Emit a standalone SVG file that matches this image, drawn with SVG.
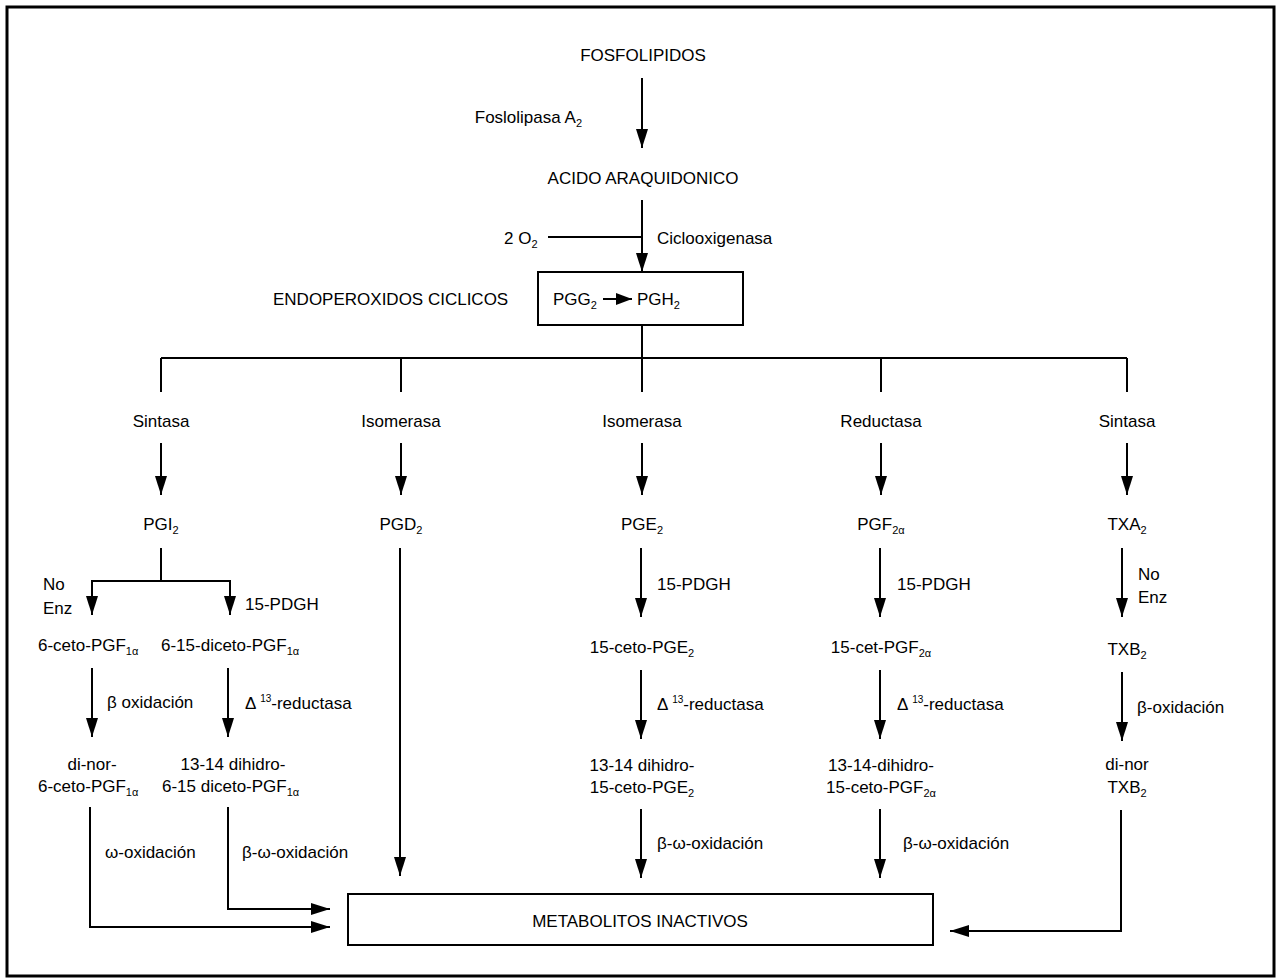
<svg xmlns="http://www.w3.org/2000/svg" width="1276" height="978" viewBox="0 0 1276 978">
<style>
text{font-family:"Liberation Sans",Arial,sans-serif;font-size:17px;fill:#000}
.m{text-anchor:middle}
.e{text-anchor:end}
.s{font-size:11px}
.sup{font-size:10px}
line,polyline,rect.b{stroke:#000;stroke-width:2;fill:none}
</style>
<defs>
<marker id="ah" markerUnits="userSpaceOnUse" markerWidth="19" markerHeight="12" viewBox="0 0 19 12" refX="19" refY="6" orient="auto">
<path d="M0,0 L19,6 L0,12 z" fill="#000"/>
</marker>
<marker id="ahs" markerUnits="userSpaceOnUse" markerWidth="16" markerHeight="12" viewBox="0 0 16 12" refX="16" refY="6" orient="auto">
<path d="M0,0 L16,6 L0,12 z" fill="#000"/>
</marker>
</defs>
<rect x="7" y="7" width="1267" height="969" fill="#fff" stroke="#000" stroke-width="3"/>

<g id="connectors">
<line x1="642" y1="78" x2="642" y2="148" marker-end="url(#ah)"/>
<line x1="642" y1="200" x2="642" y2="272" marker-end="url(#ah)"/>
<line x1="548" y1="237" x2="642" y2="237"/>
<line x1="642" y1="325" x2="642" y2="358"/>
<line x1="161" y1="358" x2="1127" y2="358"/>
<line x1="161" y1="358" x2="161" y2="392"/>
<line x1="401" y1="358" x2="401" y2="392"/>
<line x1="642" y1="358" x2="642" y2="392"/>
<line x1="881" y1="358" x2="881" y2="392"/>
<line x1="1127" y1="358" x2="1127" y2="392"/>
<line x1="161" y1="443" x2="161" y2="495" marker-end="url(#ah)"/>
<line x1="401" y1="443" x2="401" y2="495" marker-end="url(#ah)"/>
<line x1="642" y1="443" x2="642" y2="495" marker-end="url(#ah)"/>
<line x1="881" y1="443" x2="881" y2="495" marker-end="url(#ah)"/>
<line x1="1127" y1="443" x2="1127" y2="495" marker-end="url(#ah)"/>
<line x1="161" y1="548" x2="161" y2="581"/>
<line x1="91" y1="581" x2="231" y2="581"/>
<line x1="92" y1="581" x2="92" y2="615" marker-end="url(#ah)"/>
<line x1="230" y1="581" x2="230" y2="615" marker-end="url(#ah)"/>
<line x1="92" y1="668" x2="92" y2="737" marker-end="url(#ah)"/>
<line x1="228" y1="668" x2="228" y2="737" marker-end="url(#ah)"/>
<polyline points="90,807 90,927 330,927" marker-end="url(#ah)"/>
<polyline points="228,807 228,909 330,909" marker-end="url(#ah)"/>
<line x1="400" y1="548" x2="400" y2="876" marker-end="url(#ah)"/>
<line x1="641" y1="548" x2="641" y2="617" marker-end="url(#ah)"/>
<line x1="641" y1="670" x2="641" y2="739" marker-end="url(#ah)"/>
<line x1="641" y1="809" x2="641" y2="878" marker-end="url(#ah)"/>
<line x1="880" y1="548" x2="880" y2="617" marker-end="url(#ah)"/>
<line x1="880" y1="670" x2="880" y2="739" marker-end="url(#ah)"/>
<line x1="880" y1="809" x2="880" y2="878" marker-end="url(#ah)"/>
<line x1="1122" y1="548" x2="1122" y2="617" marker-end="url(#ah)"/>
<line x1="1122" y1="672" x2="1122" y2="741" marker-end="url(#ah)"/>
<polyline points="1121,810 1121,931 950,931" marker-end="url(#ah)"/>
</g>

<g id="fosfolipidos"><text class="m" x="643" y="61">FOSFOLIPIDOS</text></g>
<g id="foslolipasa"><text class="e" x="582" y="123">Foslolipasa A<tspan class="s" dy="4">2</tspan></text></g>
<g id="acido"><text class="m" x="643" y="184">ACIDO ARAQUIDONICO</text></g>
<g id="o2"><text x="504" y="244">2  O<tspan class="s" dy="4">2</tspan></text></g>
<g id="ciclooxigenasa"><text x="657" y="244">Ciclooxigenasa</text></g>
<g id="endoperoxidos-label"><text x="273" y="305">ENDOPEROXIDOS CICLICOS</text></g>
<g id="endoperoxidos">
<rect class="b" x="538" y="272" width="205" height="53"/>
<text x="553" y="305">PGG<tspan class="s" dy="4">2</tspan></text>
<line x1="603" y1="299" x2="632" y2="299" stroke-width="2.5" marker-end="url(#ahs)"/>
<text x="637" y="305">PGH<tspan class="s" dy="4">2</tspan></text>
</g>

<g id="enzymes">
<text class="m" x="161" y="427">Sintasa</text>
<text class="m" x="401" y="427">Isomerasa</text>
<text class="m" x="642" y="427">Isomerasa</text>
<text class="m" x="881" y="427">Reductasa</text>
<text class="m" x="1127" y="427">Sintasa</text>
</g>

<g id="pgi2"><text class="m" x="161" y="530">PGI<tspan class="s" dy="4">2</tspan></text></g>
<g id="pgd2"><text class="m" x="401" y="530">PGD<tspan class="s" dy="4">2</tspan></text></g>
<g id="pge2"><text class="m" x="642" y="530">PGE<tspan class="s" dy="4">2</tspan></text></g>
<g id="pgf2a"><text class="m" x="881" y="530">PGF<tspan class="s" dy="4">2α</tspan></text></g>
<g id="txa2"><text class="m" x="1127" y="530">TXA<tspan class="s" dy="4">2</tspan></text></g>

<g id="pgi2-path">
<text x="43" y="590">No</text>
<text x="43" y="614">Enz</text>
<text x="245" y="610">15-PDGH</text>
<text x="38" y="651">6-ceto-PGF<tspan class="s" dy="4">1α</tspan></text>
<text x="161" y="651">6-15-diceto-PGF<tspan class="s" dy="4">1α</tspan></text>
<text x="107" y="708">β oxidación</text>
<text x="245" y="709">Δ <tspan class="sup" dy="-7">13</tspan><tspan dy="7">-reductasa</tspan></text>
<text class="m" x="92" y="770">di-nor-</text>
<text x="38" y="792">6-ceto-PGF<tspan class="s" dy="4">1α</tspan></text>
<text class="m" x="233" y="770">13-14 dihidro-</text>
<text x="162" y="792">6-15 diceto-PGF<tspan class="s" dy="4">1α</tspan></text>
<text x="105" y="858">ω-oxidación</text>
<text x="242" y="858">β-ω-oxidación</text>
</g>

<g id="pge2-path">
<text x="657" y="590">15-PDGH</text>
<text class="m" x="642" y="653">15-ceto-PGE<tspan class="s" dy="4">2</tspan></text>
<text x="657" y="710">Δ <tspan class="sup" dy="-7">13</tspan><tspan dy="7">-reductasa</tspan></text>
<text class="m" x="642" y="771">13-14 dihidro-</text>
<text class="m" x="642" y="793">15-ceto-PGE<tspan class="s" dy="4">2</tspan></text>
<text x="657" y="849">β-ω-oxidación</text>
</g>

<g id="pgf2a-path">
<text x="897" y="590">15-PDGH</text>
<text class="m" x="881" y="653">15-cet-PGF<tspan class="s" dy="4">2α</tspan></text>
<text x="897" y="710">Δ <tspan class="sup" dy="-7">13</tspan><tspan dy="7">-reductasa</tspan></text>
<text class="m" x="881" y="771">13-14-dihidro-</text>
<text class="m" x="881" y="793">15-ceto-PGF<tspan class="s" dy="4">2α</tspan></text>
<text x="903" y="849">β-ω-oxidación</text>
</g>

<g id="txa2-path">
<text x="1138" y="580">No</text>
<text x="1138" y="603">Enz</text>
<text class="m" x="1127" y="655">TXB<tspan class="s" dy="4">2</tspan></text>
<text x="1137" y="713">β-oxidación</text>
<text class="m" x="1127" y="770">di-nor</text>
<text class="m" x="1127" y="793">TXB<tspan class="s" dy="4">2</tspan></text>
</g>

<g id="metabolitos">
<rect class="b" x="348" y="894" width="585" height="51"/>
<text class="m" x="640" y="927">METABOLITOS INACTIVOS</text>
</g>
</svg>
